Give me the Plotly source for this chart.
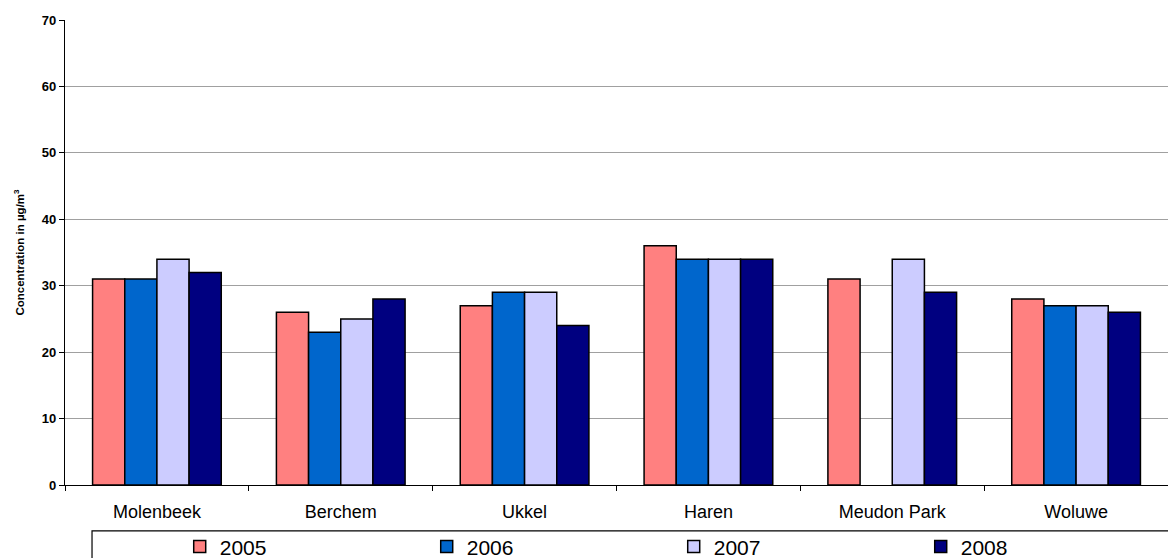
import plotly.graph_objects as go

stations = ["Molenbeek", "Berchem", "Ukkel", "Haren", "Meudon Park", "Woluwe"]
years = ["2005", "2006", "2007", "2008"]
v2005 = [31, 26, 27, 36, 31, 28]
v2006 = [31, 23, 29, 34, None, 27]
v2007 = [34, 25, 29, 34, 34, 27]
v2008 = [32, 28, 24, 34, 29, 26]
limit_value = 40
y_ticks = [0, 10, 20, 30, 40, 50, 60, 70]

colors = ["#FF8080", "#0066CC", "#CCCCFF", "#000080"]
series = [v2005, v2006, v2007, v2008]

fig = go.Figure()
for name, vals, col in zip(years, series, colors):
    fig.add_trace(go.Bar(
        x=stations, y=vals, name=name,
        marker=dict(color=col, line=dict(color="black", width=1.5)),
    ))

fig.add_hline(y=limit_value, line=dict(color="#FF0000", width=2.5), layer="above")

fig.update_layout(
    width=1168, height=558,
    margin=dict(l=65, r=0, t=20, b=73, autoexpand=False),
    plot_bgcolor="white", paper_bgcolor="white",
    barmode="group", bargap=0.3, bargroupgap=0,
    font=dict(family="Liberation Sans, Arial, sans-serif", color="black"),
    showlegend=True,
    legend=dict(
        orientation="h", x=0.104, xanchor="left", y=-0.089, yanchor="top",
        font=dict(size=21), entrywidth=202, entrywidthmode="pixels",
        bgcolor="rgba(0,0,0,0)", traceorder="normal",
    ),
    shapes=[dict(type="rect", xref="paper", yref="paper",
                 x0=0.0245, x1=1.05, y0=-0.0985, y1=-0.25,
                 line=dict(color="black", width=1.2), fillcolor="rgba(0,0,0,0)",
                 layer="below")],
)
fig.update_xaxes(
    showline=True, linecolor="black", linewidth=1.2,
    ticks="outside", tickson="boundaries", ticklen=5, tickcolor="black",
    tickfont=dict(size=18), ticklabelstandoff=10, showgrid=False,
)
fig.update_yaxes(
    range=[0, 70], tickvals=y_ticks, showline=True, linecolor="black", linewidth=1.2,
    ticks="outside", ticklen=5, tickcolor="black",
    tickfont=dict(size=13, weight="bold"),
    showgrid=True, gridcolor="#A0A0A0", gridwidth=1, zeroline=False,
    title=dict(text="<b>Concentration in µg/m<sup>3</sup></b>", font=dict(size=11.5), standoff=14),
)

fig.write_html("out.html")
